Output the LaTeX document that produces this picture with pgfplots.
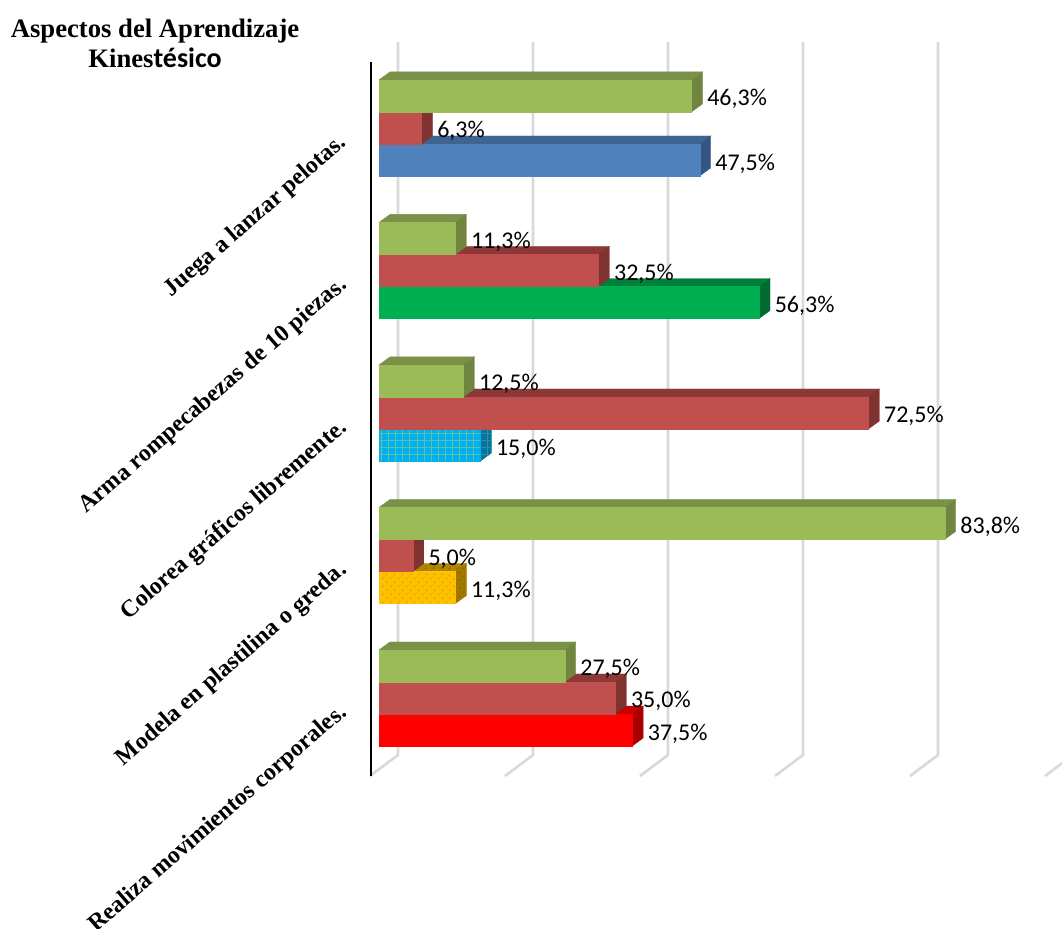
\documentclass[border=0pt]{standalone}
\usepackage{fontspec}
\usepackage{pgfplots}
\pgfplotsset{compat=1.18}
\usetikzlibrary{patterns.meta}
\setmainfont{Carlito}
\newfontfamily\tnr{Liberation Serif}
\newfontfamily\calibri{Carlito}

% front / top / side colours
\definecolor{greenF}{HTML}{9BBB59}\definecolor{greenT}{HTML}{7A9149}\definecolor{greenS}{HTML}{6F8540}
\definecolor{redF}{HTML}{C0504D}\definecolor{redT}{HTML}{8C3836}\definecolor{redS}{HTML}{7F3230}
\definecolor{blueF}{HTML}{4F81BD}\definecolor{blueT}{HTML}{3F6392}\definecolor{blueS}{HTML}{335583}
\definecolor{vivF}{HTML}{00B050}\definecolor{vivT}{HTML}{00803A}\definecolor{vivS}{HTML}{006B31}
\definecolor{cyanF}{HTML}{00B0F0}\definecolor{cyanT}{HTML}{0082B0}\definecolor{cyanS}{HTML}{0076A3}
\definecolor{oraF}{HTML}{FFC000}\definecolor{oraT}{HTML}{B08500}\definecolor{oraS}{HTML}{A07800}
\definecolor{pureF}{HTML}{FF0000}\definecolor{pureT}{HTML}{C80000}\definecolor{pureS}{HTML}{A80000}
\definecolor{cuadF}{HTML}{62BFA0}
\definecolor{cuadS}{HTML}{3A8C8C}
\definecolor{puntF}{HTML}{C48A10}
\definecolor{puntS}{HTML}{6E5200}
\definecolor{gridc}{HTML}{D9D9D9}

\tikzset{
  cuad/.style={postaction={pattern color=#1,pattern={Hatch[angle=0,distance=5.3pt,line width=.6pt]}}},
  punt/.style={postaction={pattern color=#1,pattern={Dots[angle=45,distance=4pt,radius=.6pt]}}},
}

% value, y of bar centre, colour name; optional styles for front and depth faces
\newcommand{\barra}[5][]{%
  \pgfmathsetmacro\yb{#3-0.1125}%
  \pgfmathsetmacro\yt{#3+0.1125}%
  \pgfmathsetmacro\ytt{\yt+0.0561}%
  \pgfmathsetmacro\ybb{\yb+0.0561}%
  \pgfmathsetmacro\vv{#2+1.63}%
  \addplot[fill=#4T,draw=#4T,line width=.2pt,#1] coordinates {(0,\yt)(1.63,\ytt)(\vv,\ytt)(#2,\yt)} --cycle;
  \addplot[fill=#4S,draw=#4S,line width=.2pt,#1] coordinates {(#2,\yb)(\vv,\ybb)(\vv,\ytt)(#2,\yt)} --cycle;
  \addplot[fill=#4F,draw=#4F,line width=.2pt,#5] coordinates {(0,\yb)(#2,\yb)(#2,\yt)(0,\yt)} --cycle;
  \addplot[draw=none,point meta=x,nodes near coords={\pgfmathprintnumber{\pgfplotspointmeta}\%},
    nodes near coords align={horizontal},
    every node near coord/.append style={font=\fontsize{18}{20}\selectfont,text=black,inner sep=0pt,xshift=15.5*0.75pt,yshift=-2.5pt}]
    coordinates {(#2,#3)};
}
% back position of a wall line
\newcommand{\rejilla}[2]{%
  \addplot[draw=gridc,line width=2pt] coordinates {(#1,0.4526)(#2,0.6)(#2,5.6035)};
}

\begin{document}
\begin{tikzpicture}
\useasboundingbox (0,0) rectangle (796.5pt,696pt);
\begin{axis}[
  at={(0,0)},anchor=south west,
  scale only axis,
  width=796.5pt,height=696pt,
  xmin=-56.148,xmax=101.185,
  ymin=-0.614,ymax=5.898,
  axis line style={draw=none},
  xtick=\empty,
  ytick={1,2,3,4,5},
  yticklabels={Realiza movimientos corporales.,Modela en plastilina o greda.,Colorea gráficos libremente.,Arma rompecabezas de 10 piezas.,Juega a lanzar pelotas.},
  major tick length=0pt,
  yticklabel style={font=\tnr\bfseries\fontsize{18}{20}\selectfont,xshift=258pt,yshift=-9pt,rotate=41,anchor=east,inner sep=0pt},
  /pgf/number format/.cd,fixed,fixed zerofill,precision=1,use comma,assume math mode=true,
]
% wall lines
\rejilla{-1.333}{2.815}
\rejilla{18.667}{22.815}
\rejilla{38.667}{42.815}
\rejilla{58.667}{62.815}
\rejilla{78.667}{82.815}
\rejilla{98.667}{102.815}
% vertical axis line
\addplot[draw=black,line width=2pt] coordinates {(-1.185,0.4526)(-1.185,5.463)};

% Juega a lanzar pelotas
\barra{47.5}{4.775}{blue}{}
\barra{6.3}{5.0}{red}{}
\barra{46.3}{5.225}{green}{}
% Arma rompecabezas
\barra{56.3}{3.775}{viv}{}
\barra{32.5}{4.0}{red}{}
\barra{11.3}{4.225}{green}{}
% Colorea graficos
\barra[cuad=cuadS]{15.0}{2.775}{cyan}{cuad=cuadF}
\barra{72.5}{3.0}{red}{}
\barra{12.5}{3.225}{green}{}
% Modela en plastilina
\barra[punt=puntS]{11.3}{1.775}{ora}{punt=puntF}
\barra{5.0}{2.0}{red}{}
\barra{83.8}{2.225}{green}{}
% Realiza movimientos
\barra{37.5}{0.775}{pure}{}
\barra{35.0}{1.0}{red}{}
\barra{27.5}{1.225}{green}{}
\node[font=\tnr\bfseries\fontsize{20}{22.5}\selectfont,align=center,inner sep=0pt] at (rel axis cs:0.146,0.9537)
  {Aspectos del Aprendizaje\\Kines{\calibri\bfseries\fontsize{21}{22.5}\selectfont tésico}};
\end{axis}
\end{tikzpicture}
\end{document}
